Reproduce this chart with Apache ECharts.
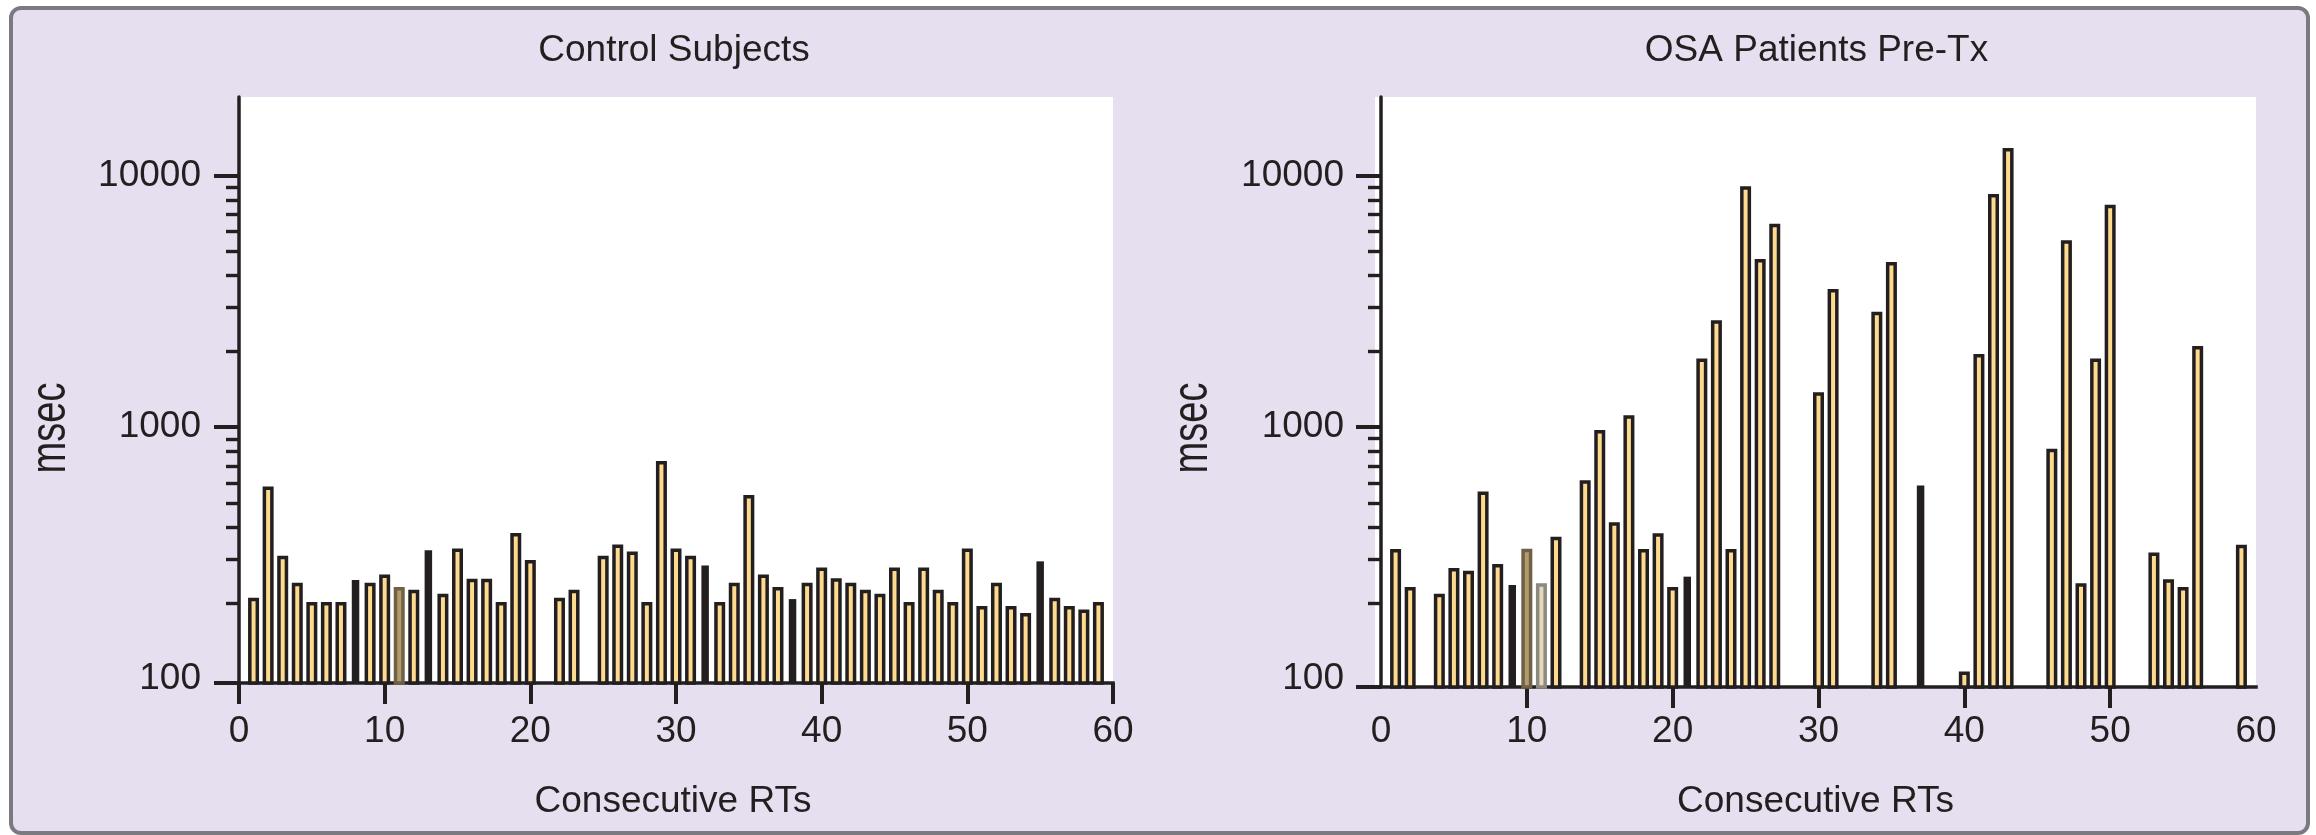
<!DOCTYPE html>
<html>
<head>
<meta charset="utf-8">
<script src="https://cdn.jsdelivr.net/npm/echarts@6/dist/echarts.min.js"></script>
<style>
html,body{margin:0;padding:0;background:#ffffff;}
#chart{width:2316px;height:835px;}
</style>
</head>
<body>
<div id="chart"></div>
<script>
// ---------------- data ----------------
const panelTitles = ['Control Subjects', 'OSA Patients Pre-Tx'];
const xAxisName = 'Consecutive RTs';
const yAxisName = 'msec';
const xTickLabels = [0, 10, 20, 30, 40, 50, 60];
const yTickLabels = [100, 1000, 10000];
const yMinorTicks = [200, 300, 400, 500, 600, 700, 800, 900, 2000, 3000, 4000, 5000, 6000, 7000, 8000, 9000];

// Control subjects: reaction number and RT (msec)
const controlRT = [1, 2, 3, 4, 5, 6, 7, 8, 9, 10, 11, 12, 13, 14, 15, 16, 17, 18, 19, 20,
  22, 23, 25, 26, 27, 28, 29, 30, 31, 32, 33, 34, 35, 36, 37, 38, 39, 40,
  41, 42, 43, 44, 45, 46, 47, 48, 49, 50, 51, 52, 53, 54, 55, 56, 57, 58, 59];
const controlMsec = [210, 581, 309, 241, 202, 202, 202, 251, 241, 260, 232, 226, 330, 218, 330, 250, 250, 202, 380, 297,
  210, 226, 309, 342, 321, 202, 735, 330, 309, 287, 202, 241, 538, 260, 232, 211, 241, 277,
  251, 241, 226, 218, 277, 202, 277, 226, 202, 330, 195, 241, 195, 183, 298, 210, 195, 189, 202];
const controlDarkRT = [8, 13, 32, 38, 55];
const controlTanRT = [11];

// OSA patients pre-treatment
const patientRT = [1, 2, 4, 5, 6, 7, 8, 9, 10, 11, 12, 14, 15, 16, 17, 18, 19, 20, 21, 22, 23, 24, 25, 26, 27,
  30, 31, 34, 35, 37, 40, 41, 42, 43, 46, 47, 48, 49, 50, 53, 54, 55, 56, 59];
const patientMsec = [328, 232, 218, 276, 269, 556, 286, 240, 329, 240, 367, 616, 974, 419, 1116, 328, 379, 232, 259, 1875, 2661, 328, 9060, 4660, 6430,
  1377, 3544, 2874, 4529, 596, 107, 1955, 8445, 12860, 821, 5528, 240, 1875, 7656, 318, 249, 232, 2104, 341];
const patientDarkRT = [9, 21, 37];
const patientTanRT = [10];
const patientGreyRT = [11];

// ---------------- styles ----------------
const INK = '#231f20';
const FILL = '#fdda8d';
const FONT = '"Liberation Sans", Arial, Helvetica, sans-serif';
const FS = 37;

function buildBars(rt, ms, dark, tan, grey) {
  return rt.map((x, i) => {
    const item = { value: [x, ms[i]] };
    if (dark.includes(x)) item.itemStyle = { color: INK, borderColor: 'rgba(0,0,0,0)', borderWidth: 3.5 };
    else if (tan.includes(x)) item.itemStyle = { color: '#b39b6c', borderColor: '#6f6048' };
    else if (grey.includes(x)) item.itemStyle = { color: '#e6dab8', borderColor: '#8c8882' };
    return item;
  });
}

const panels = [
  { grid: { left: 239, top: 97, width: 874, height: 586 }, yMin: 96.4, yMax: 20500,
    xLabelMargin: 30, yLabelMargin: 38, xTicks: xTickLabels,
    data: buildBars(controlRT, controlMsec, controlDarkRT, controlTanRT, []) },
  { grid: { left: 1381, top: 97, width: 875, height: 590 }, yMin: 92.9, yMax: 20500,
    xLabelMargin: 26, yLabelMargin: 37, xTicks: xTickLabels.slice(1, 6),
    data: buildBars(patientRT, patientMsec, patientDarkRT, patientTanRT, patientGreyRT) }
];

const option = {
  animation: false,
  backgroundColor: '#ffffff',
  grid: [], xAxis: [], yAxis: [], series: [],
  graphic: []
};

option.graphic.push({
  type: 'rect', z: -10,
  shape: { x: 11, y: 8, width: 2297, height: 825, r: 10 },
  style: { fill: '#e6dfef', stroke: '#7d7980', lineWidth: 4 }
});
// white plot area of the right panel starts a little left of its axis
option.graphic.push({
  type: 'rect', z: -5,
  shape: { x: 1375, y: 97, width: 8, height: 590 },
  style: { fill: '#ffffff' }
});

panels.forEach((p, i) => {
  option.grid.push(Object.assign({ show: true, backgroundColor: '#ffffff', borderWidth: 0, containLabel: false, outerBoundsMode: 'none' }, p.grid));
  option.xAxis.push({
    type: 'value', gridIndex: i, min: 0, max: 60, interval: 10,
    axisLine: { show: true, onZero: false, lineStyle: { color: INK, width: 3.5, cap: 'square' } },
    axisTick: { show: true, length: 21, customValues: p.xTicks, lineStyle: { color: INK, width: 4 } },
    axisLabel: { color: INK, fontSize: FS, fontFamily: FONT, margin: p.xLabelMargin, customValues: xTickLabels },
    splitLine: { show: false }
  });
  // major ticks + labels (the lowest tick sits on the x axis line)
  option.yAxis.push({
    type: 'log', gridIndex: i, position: 'left', min: p.yMin, max: p.yMax, logBase: 10,
    axisLine: { show: true, onZero: false, lineStyle: { color: INK, width: 3.5 } },
    axisTick: { show: true, length: 25, customValues: [p.yMin * 1.0005, 1000, 10000], lineStyle: { color: INK, width: 4 } },
    axisLabel: { color: INK, fontSize: FS, fontFamily: FONT, margin: p.yLabelMargin,
      customValues: yTickLabels, formatter: v => String(Math.round(v)) },
    splitLine: { show: false }, minorTick: { show: false }
  });
  // minor ticks
  option.yAxis.push({
    type: 'log', gridIndex: i, position: 'left', offset: 0, min: p.yMin, max: p.yMax, logBase: 10,
    axisLine: { show: false },
    axisTick: { show: true, length: 13, customValues: yMinorTicks, lineStyle: { color: INK, width: 3.4 } },
    axisLabel: { show: false }, splitLine: { show: false }
  });
  option.series.push({
    type: 'bar', xAxisIndex: i, yAxisIndex: i * 2,
    barWidth: 11, clip: true,
    itemStyle: { color: FILL, borderColor: INK, borderWidth: 3.5 },
    data: p.data
  });
  const cx = p.grid.left + p.grid.width / 2;
  option.graphic.push({
    type: 'text', z: 10, x: cx - 2, y: 51,
    style: { text: panelTitles[i], fontSize: FS, fontFamily: FONT, fill: INK, align: 'center', verticalAlign: 'middle' }
  });
  option.graphic.push({
    type: 'text', z: 10, x: cx - 3, y: 802,
    style: { text: xAxisName, fontSize: FS, fontFamily: FONT, fill: INK, align: 'center', verticalAlign: 'middle' }
  });
  option.graphic.push({
    type: 'text', z: 10, x: p.grid.left - 188, y: 428, rotation: Math.PI / 2, scaleY: 1.3,
    style: { text: yAxisName, fontSize: 38, fontFamily: FONT, fill: INK, align: 'center', verticalAlign: 'middle' }
  });
});

const chart = echarts.init(document.getElementById('chart'), null, { renderer: 'canvas' });
chart.setOption(option);
</script>
</body>
</html>
